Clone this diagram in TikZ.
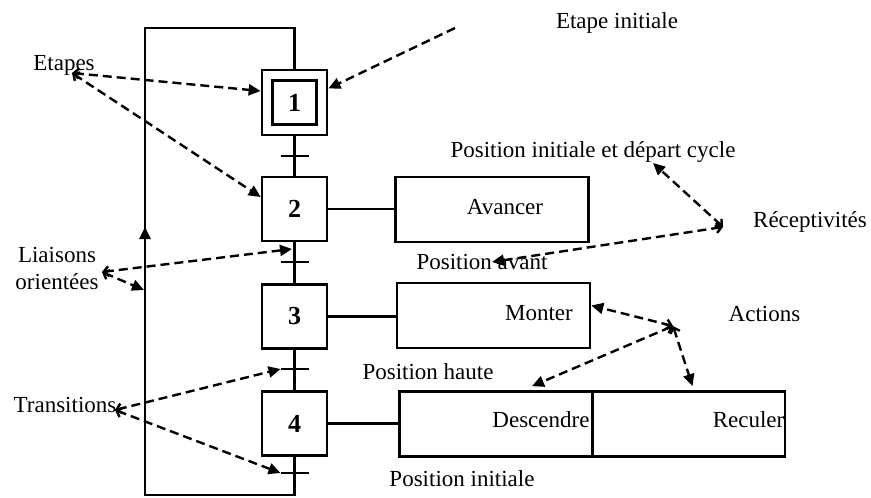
\documentclass[tikz,border=0pt]{standalone}
\usepackage{fontspec}
\setmainfont{Liberation Serif}
\usetikzlibrary{positioning}
\usetikzlibrary{arrows.meta}

\begin{document}
\begin{tikzpicture}[x=0.5pt, y=-0.5pt, line width=1.35pt,
            every node/.style={font=\fontsize{11.5}{13.5}\selectfont},
            etape/.style={draw, minimum width=32.5pt, minimum height=32pt, inner sep=0pt, font=\fontsize{13}{15}\selectfont\bfseries},
            action/.style={draw, minimum width=96.5pt, minimum height=32.5pt, inner sep=0pt},
            fl/.style={dash pattern=on 4.5pt off 2.5pt, line width=1.2pt, -{Triangle[length=6pt,width=5.5pt]}},
            ffl/.style={fl, {Straight Barb[length=2.5pt,width=5pt]}-{Triangle[length=6pt,width=5.5pt]}}]
            \useasboundingbox (0,0) rectangle (871,497);

            % etapes
            \node[etape, minimum height=32.5pt] (e1) at (294.5,102.5) {};
            \node[etape, minimum width=22pt, minimum height=22pt] (e1i) at (e1) {1};
            \node[etape] (e2) at (294.5,209) {2};
            \node[etape] (e3) at (294.5,316.5) {3};
            \node[etape] (e4) at (294.5,423.5) {4};

            % liaisons et boucle
            \coordinate (bas) at (294.5,495);
            \coordinate (bg) at (145,495);
            \coordinate (hg) at (145,28);
            \coordinate (hd) at (294.5,28);
            \coordinate (fg) at (145,227);
            \draw (e1) -- (e2);
            \draw (e2) -- (e3);
            \draw (e3) -- (e4);
            \draw (e4) -- (bas) -- (bg) -- (hg) -- (hd) -- (e1);
            \draw[-{Triangle[length=6pt,width=5.5pt]}] (bg) -- (fg);

            % transitions
            \coordinate (t1) at (294.5,156);
            \coordinate (t2) at (294.5,262);
            \coordinate (t3) at (294.5,369);
            \coordinate (t4) at (294.5,473);
            \foreach \t in {t1,t2,t3,t4}
                \draw ([xshift=-7pt]\t) -- ([xshift=7pt]\t);

            % actions
            \node[action] (a2) at (492,209.5) {};
            \node[action] (a3) at (493.5,315.5) {};
            \node[action] (a4) at (496,424) {};
            \node[action] (a5) at (688.5,424) {};
            \draw (e2.east) -- (e2.east -| a2.west);
            \draw (e3.east) -- (e3.east -| a3.west);
            \draw (e4.east) -- (e4.east -| a4.west);
            \node (tav) at (505,207) {Avancer};
            \node (tmo) at (539,313) {Monter};
            \node (tde) at (541,420) {Descendre};
            \node (tre) at (748.5,420) {Reculer};

            % receptivites
            \node (pidc) at (593,152) {Position initiale et départ cycle};
            \node (pav) at (482,262) {Position avant};
            \node (pha) at (428,372) {Position haute};
            \node (pin) at (462,479) {Position initiale};

            % legendes
            \node (lei) at (617,23) {Etape initiale};
            \node (let) at (64,65) {Etapes};
            \node[align=center] (lli) at (57,268) {Liaisons\\orientées};
            \node (ltr) at (65,405) {Transitions};
            \node (lre) at (810,222) {Réceptivités};
            \node (lac) at (764.5,314) {Actions};

            \coordinate (cei) at (455,28);
            \coordinate (cet) at (72,73);
            \coordinate (cli) at (102,272);
            \coordinate (ctr) at (115,410);
            \coordinate (cre) at (723,227);
            \coordinate (cac) at (673,326);
            \coordinate (l23) at (292,249);
            \coordinate (lg) at (144,290);
            \coordinate (rpd) at (653,163);
            \coordinate (rpa) at (492,262);

            \draw[fl] (cei) -- ([yshift=7pt]e1.east);
            \draw[ffl] (cet) -- ([yshift=5.75pt]e1.west);
            \draw[ffl] (cet) -- ([yshift=6pt]e2.west);
            \draw[ffl] (cli) -- (l23);
            \draw[ffl] (cli) -- (lg);
            \draw[ffl] (ctr) -- ([xshift=-7pt]t3);
            \draw[ffl] (ctr) -- ([xshift=-7pt]t4);
            \draw[ffl] (cre) -- (rpd);
            \draw[ffl] (cre) -- (rpa);
            \draw[ffl] (cac) -- ([yshift=5pt]a3.east);
            \draw[ffl] (cac) -- ([xshift=18pt,yshift=2pt]a4.north);
            \draw[ffl] (cac) -- ([xshift=2pt,yshift=2pt]a5.north);
        \end{tikzpicture}
\end{document}
